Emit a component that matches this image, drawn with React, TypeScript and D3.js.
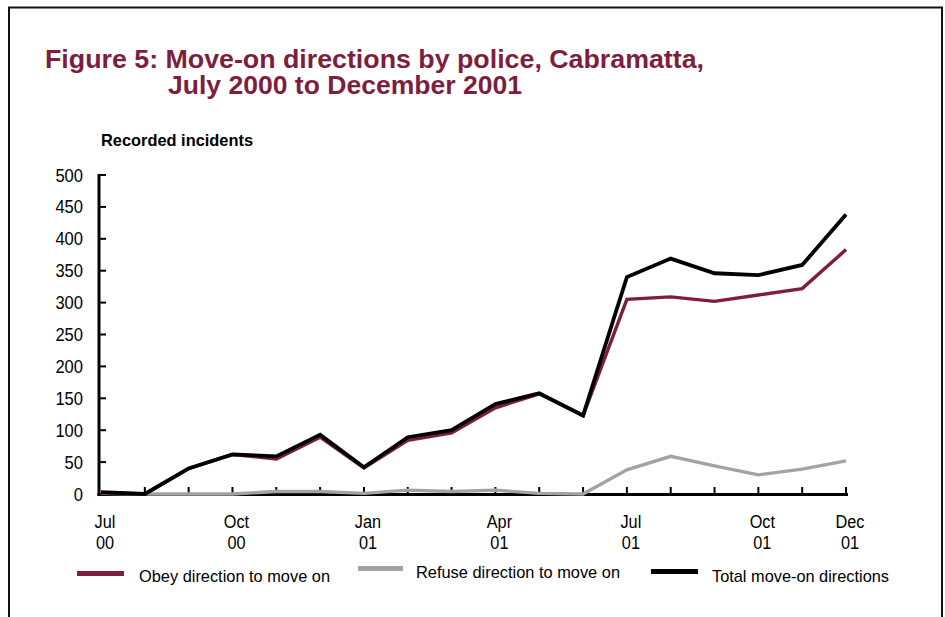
import React from "react";
import * as d3 from "d3";

const months = ["Jul 00","Aug 00","Sep 00","Oct 00","Nov 00","Dec 00","Jan 01","Feb 01","Mar 01","Apr 01","May 01","Jun 01","Jul 01","Aug 01","Sep 01","Oct 01","Nov 01","Dec 01"];
const obey = [2, 0, 40, 62, 55, 89, 41, 84, 96, 135, 157, 123, 305, 309, 302, 312, 322, 383];
const refuse = [1, 0, 0, 0, 4, 4, 1, 6, 4, 6, 1, 0, 38, 59, 44, 30, 39, 52];
const total = [3, 0, 40, 62, 59, 93, 42, 89, 100, 141, 158, 123, 340, 369, 346, 343, 359, 438];
const yTicks = [0, 50, 100, 150, 200, 250, 300, 350, 400, 450, 500];
const xLabels: { i: number; l1: string; l2: string }[] = [
  { i: 0, l1: "Jul", l2: "00" },
  { i: 3, l1: "Oct", l2: "00" },
  { i: 6, l1: "Jan", l2: "01" },
  { i: 9, l1: "Apr", l2: "01" },
  { i: 12, l1: "Jul", l2: "01" },
  { i: 15, l1: "Oct", l2: "01" },
  { i: 17, l1: "Dec", l2: "01" },
];

const MAROON = "#7E1E3E";
const GREY = "#A3A3A3";
const FONT = "'Liberation Sans', Arial, sans-serif";

export default function App() {
  const x = d3.scaleLinear().domain([0, months.length - 1]).range([101, 846]);
  const y = d3.scaleLinear().domain([0, 500]).range([494, 175]);
  const line = d3
    .line<number>()
    .x((_, i) => x(i))
    .y((d) => y(d));

  const legend = [
    { label: "Obey direction to move on", color: MAROON, x0: 77, x1: 124, ly: 573.5, tx: 139, ty: 582, tl: 191 },
    { label: "Refuse direction to move on", color: GREY, x0: 358, x1: 403, ly: 568.5, tx: 416, ty: 578, tl: 204 },
    { label: "Total move-on directions", color: "#000", x0: 651, x1: 698, ly: 571.5, tx: 712, ty: 582, tl: 177 },
  ];

  return (
    <div style={{ position: "absolute", left: 0, top: 0 }}>
      <svg width={945} height={617} style={{ display: "block", background: "#fff" }} fontFamily={FONT}>
        <rect x={0} y={0} width={945} height={617} fill="#fff" />
        {/* frame */}
        <path d="M9,620 V7.5 H942 V620" fill="none" stroke="#111" strokeWidth={2} />
        {/* title */}
        <text x={45} y={68} fontSize={25} fontWeight="bold" fill={MAROON} textLength={659} lengthAdjust="spacingAndGlyphs">
          Figure 5: Move-on directions by police, Cabramatta,
        </text>
        <text x={168} y={94} fontSize={25} fontWeight="bold" fill={MAROON} textLength={354} lengthAdjust="spacingAndGlyphs">
          July 2000 to December 2001
        </text>
        <text x={101} y={146} fontSize={16.5} fontWeight="bold" fill="#000" textLength={152} lengthAdjust="spacingAndGlyphs">
          Recorded incidents
        </text>
        {/* y ticks and labels */}
        {yTicks.map((t) => (
          <g key={"y" + t}>
            <line x1={99} x2={106} y1={y(t)} y2={y(t)} stroke="#000" strokeWidth={2} />
            <g transform={`translate(83,${y(t) + 6.5}) scale(0.92,1)`}>
              <text x={0} y={0} fontSize={18} textAnchor="end" fill="#000">
                {t}
              </text>
            </g>
          </g>
        ))}
        {/* x ticks */}
        {months.map((m, i) =>
          i === 0 ? null : (
            <line key={"xt" + m} x1={x(i)} x2={x(i)} y1={494} y2={487} stroke="#000" strokeWidth={2} />
          )
        )}
        {xLabels.map((d) => (
          <g key={"xl" + d.i} transform={`translate(${x(d.i) + 4},0) scale(0.88,1)`}>
            <text x={0} y={528} fontSize={18.5} textAnchor="middle" fill="#000">
              {d.l1}
            </text>
            <text x={0} y={549} fontSize={18.5} textAnchor="middle" fill="#000">
              {d.l2}
            </text>
          </g>
        ))}
        {/* axes */}
        <line x1={99} x2={99} y1={174} y2={496} stroke="#000" strokeWidth={3} />
        <line x1={97.5} x2={848} y1={494.5} y2={494.5} stroke="#000" strokeWidth={3} />
        {/* series */}
        <path d={line(refuse) || ""} fill="none" stroke={GREY} strokeWidth={3.4} strokeLinejoin="miter" />
        <path d={line(obey) || ""} fill="none" stroke={MAROON} strokeWidth={3.4} strokeLinejoin="miter" />
        <path d={line(total) || ""} fill="none" stroke="#000" strokeWidth={3.8} strokeLinejoin="miter" />
        {/* legend */}
        {legend.map((l) => (
          <g key={l.label}>
            <line x1={l.x0} x2={l.x1} y1={l.ly} y2={l.ly} stroke={l.color} strokeWidth={5} />
            <text x={l.tx} y={l.ty} fontSize={17} fill="#000" textLength={l.tl} lengthAdjust="spacingAndGlyphs">
              {l.label}
            </text>
          </g>
        ))}
      </svg>
    </div>
  );
}
